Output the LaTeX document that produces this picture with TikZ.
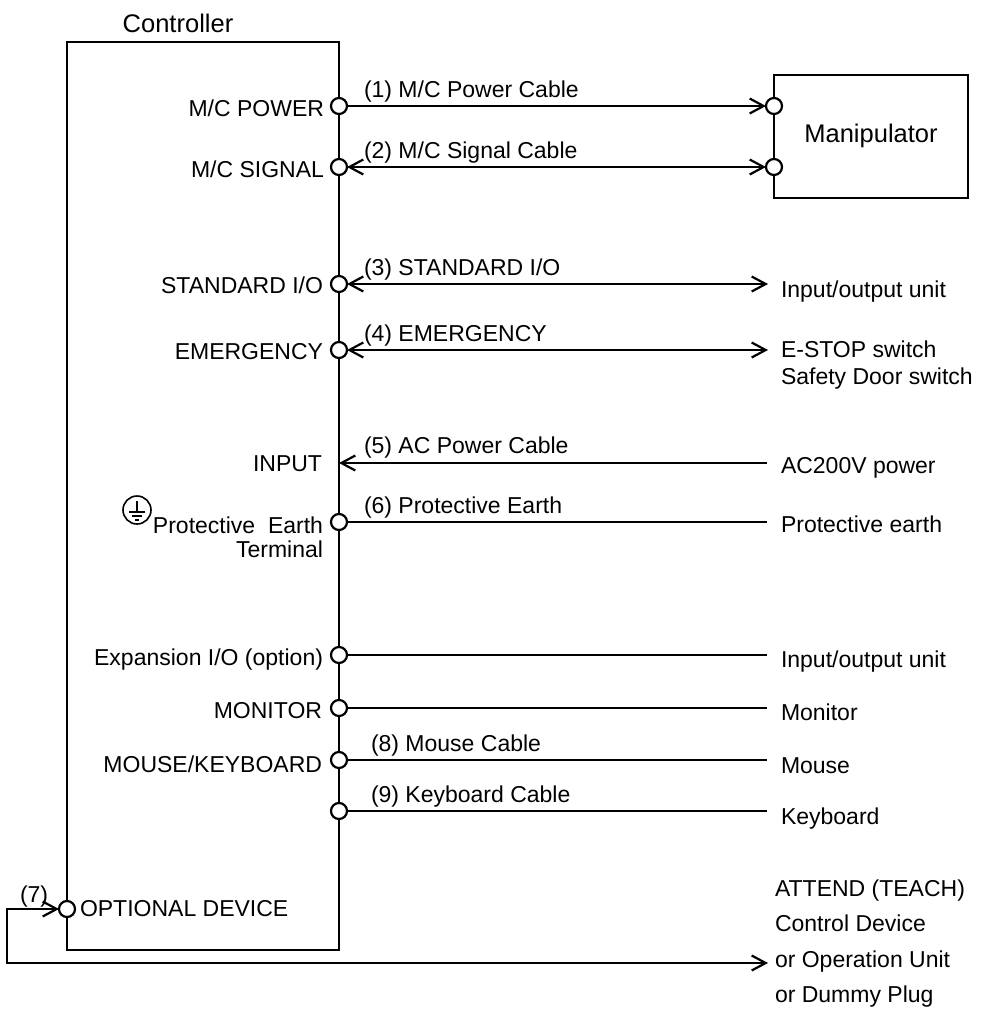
\documentclass[tikz,border=0pt]{standalone}
\usepackage{fontspec}
\setmainfont{Liberation Sans}
\usetikzlibrary{arrows.meta}
\begin{document}
\begin{tikzpicture}[x=1pt,y=-1pt,line width=2.2pt,
  >={Straight Barb[length=14pt,width=15pt]},
  lab/.style={inner sep=0pt,outer sep=0pt,font=\fontsize{23}{27}\selectfont},
  ttl/.style={inner sep=0pt,outer sep=0pt,font=\fontsize{25.5}{30}\selectfont},
  port/.style={circle,draw,fill=white,minimum size=16pt,inner sep=0pt,outer sep=0pt},
  unitbox/.style={draw,inner sep=0pt,outer sep=0pt,anchor=north west},
  symline/.style={line width=1.6pt}]
\useasboundingbox (0,0) rectangle (986,1010);
% boxes
\node[unitbox,minimum width=272pt,minimum height=908pt] (ctrl) at (67,42) {};
\node[unitbox,minimum width=194pt,minimum height=123pt] (manip) at (774,75) {};
\node[ttl,anchor=base] (ctrlT) at (178,32) {Controller};
\node[ttl,anchor=base] (manT) at (871,142) {Manipulator};
% ports
\node[port] (p1) at (339,106) {};
\node[port] (p2) at (339,167) {};
\node[port] (p3) at (339,284) {};
\node[port] (p4) at (339,350) {};
\node[port] (p6) at (339,522) {};
\node[port] (p7) at (339,655) {};
\node[port] (p8) at (339,708) {};
\node[port] (p9) at (339,760) {};
\node[port] (p10) at (339,811) {};
\node[port] (p11) at (67,909) {};
\node[port] (m1) at (774,106) {};
\node[port] (m2) at (774,167) {};
% free ends
\coordinate (e3) at (768,284);
\coordinate (e4) at (768,350);
\coordinate (e5) at (767,463);
\coordinate (i5) at (339,463);
\coordinate (e6) at (767,522);
\coordinate (e7) at (767,655);
\coordinate (e8) at (767,708);
\coordinate (e9) at (767,760);
\coordinate (e10) at (767,811);
\coordinate (lp) at (7,909);
\coordinate (e11) at (768,963);
% connectors
\draw[->] (p1) -- (m1);
\draw[<->] (p2) -- (m2);
\draw[<->] (p3) -- (e3);
\draw[<->] (p4) -- (e4);
\draw[->] (e5) -- (i5);
\draw (p6) -- (e6);
\draw (p7) -- (e7);
\draw (p8) -- (e8);
\draw (p9) -- (e9);
\draw (p10) -- (e10);
\draw[<->] (p11) -- (lp) |- (e11);
% earth symbol
\node[circle,draw,symline,minimum size=28pt,inner sep=0pt] (earth) at (137,510) {};
\draw[symline] (earth) ++(0,-9) -- ++(0,11);
\draw[symline] (earth) ++(-8,2) -- ++(16,0);
\draw[symline] (earth) ++(-5,6) -- ++(10,0);
\draw[symline] (earth) ++(-2,10) -- ++(4,0);
% left labels
\node[lab,anchor=base east] (l1) at (324,116) {M/C POWER};
\node[lab,anchor=base east] (l2) at (324,177) {M/C SIGNAL};
\node[lab,anchor=base east] (l3) at (323,293) {STANDARD I/O};
\node[lab,anchor=base east] (l4) at (323,359) {EMERGENCY};
\node[lab,anchor=base east] (l5) at (322,471) {INPUT};
\node[lab,anchor=base east] (l6) at (323,533) {Protective\ \ Earth};
\node[lab,anchor=base east] (l6b) at (323,557) {Terminal};
\node[lab,anchor=base east] (l7) at (323,665) {Expansion I/O (option)};
\node[lab,anchor=base east] (l8) at (322,718) {MONITOR};
\node[lab,anchor=base east] (l9) at (322,772) {MOUSE/KEYBOARD};
\node[lab,anchor=base west] (l11) at (80,916) {OPTIONAL DEVICE};
% cable labels
\node[lab,anchor=base west] (c1) at (364,97) {(1) M/C Power Cable};
\node[lab,anchor=base west] (c2) at (364,158) {(2) M/C Signal Cable};
\node[lab,anchor=base west] (c3) at (364,275) {(3) STANDARD I/O};
\node[lab,anchor=base west] (c4) at (364,341) {(4) EMERGENCY};
\node[lab,anchor=base west] (c5) at (364,453) {(5) AC Power Cable};
\node[lab,anchor=base west] (c6) at (364,513) {(6) Protective Earth};
\node[lab,anchor=base west] (c8) at (371,751) {(8) Mouse Cable};
\node[lab,anchor=base west] (c9) at (371,802) {(9) Keyboard Cable};
\node[lab,anchor=base west] (c7) at (20,902) {(7)};
% right labels
\node[lab,anchor=base west] (r3) at (781,297) {Input/output unit};
\node[lab,anchor=base west] (r4) at (781,357) {E-STOP switch};
\node[lab,anchor=base west] (r4b) at (781,384) {Safety Door switch};
\node[lab,anchor=base west] (r5) at (781,473) {AC200V power};
\node[lab,anchor=base west] (r6) at (781,532) {Protective earth};
\node[lab,anchor=base west] (r7) at (781,667) {Input/output unit};
\node[lab,anchor=base west] (r8) at (781,720) {Monitor};
\node[lab,anchor=base west] (r9) at (781,773) {Mouse};
\node[lab,anchor=base west] (r10) at (781,824) {Keyboard};
\node[lab,anchor=base west] (r11a) at (775,896) {ATTEND (TEACH)};
\node[lab,anchor=base west] (r11b) at (775,931) {Control Device};
\node[lab,anchor=base west] (r11c) at (775,967) {or Operation Unit};
\node[lab,anchor=base west] (r11d) at (775,1002) {or Dummy Plug};
\end{tikzpicture}
\end{document}
